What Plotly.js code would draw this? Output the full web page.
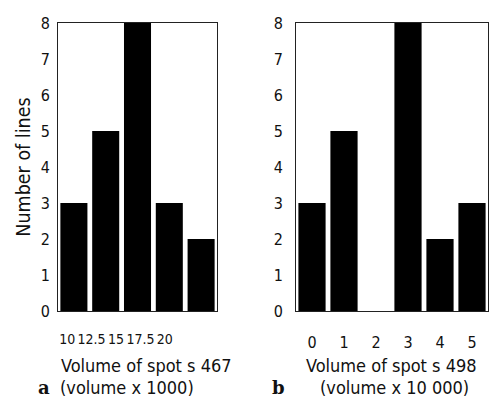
<!DOCTYPE html>
<html><head><meta charset="utf-8">
<script src="https://cdn.plot.ly/plotly-3.0.1.min.js"></script>
<style>html,body{margin:0;padding:0;background:#fff}</style>
</head><body><div id="chart" style="width:490px;height:406px"></div>
<script>
// Panel a: volume of spot s467 (volume x 1000)
const catsA = ['10', '12.5', '15', '17.5', '20'];
const countsA = [3, 5, 8, 3, 2];
// Panel b: volume of spot s498 (volume x 10 000)
const catsB = ['0', '1', '2', '3', '4', '5'];
const countsB = [3, 5, 0, 8, 2, 3];
const yTicks = [0, 1, 2, 3, 4, 5, 6, 7, 8];
const yTitle = 'Number of lines';
const titleA1 = 'Volume of spot s 467';
const titleA2 = '(volume x 1000)';
const titleB1 = 'Volume of spot s 498';
const titleB2 = '(volume x 10 000)';

const FONT = '"DejaVu Sans Condensed", "Liberation Sans Narrow", Roboto, sans-serif';
const SERIF = '"DejaVu Serif", "Liberation Serif", serif';
const W = 490;
const tickFont = {family: FONT, size: 16, color: '#111'};

const traces = [
  {type: 'bar', x: catsA, y: countsA, xaxis: 'x', yaxis: 'y',
   marker: {color: '#000', line: {width: 0}}, hoverinfo: 'skip', showlegend: false},
  {type: 'bar', x: catsB, y: countsB, xaxis: 'x2', yaxis: 'y2',
   marker: {color: '#000', line: {width: 0}}, hoverinfo: 'skip', showlegend: false},
  // carrier for the tick-label axis of panel a (draws nothing)
  {type: 'scatter', mode: 'none', x: catsA.map((c, i) => i), y: countsA,
   xaxis: 'x3', yaxis: 'y', hoverinfo: 'skip', showlegend: false}
];

const frame = {showline: true, mirror: true, linecolor: '#222', linewidth: 1,
  showgrid: false, zeroline: false, ticks: '', tickfont: tickFont, tickangle: 0};

const layout = {
  width: 490, height: 406,
  margin: {l: 0, r: 0, t: 23, b: 95, pad: 0},
  paper_bgcolor: '#fff', plot_bgcolor: 'rgba(0,0,0,0)',
  bargap: 0.15,
  font: {family: FONT, size: 15, color: '#111'},
  showlegend: false,
  xaxis: Object.assign({}, frame, {domain: [58 / W, 217 / W], type: 'category',
    range: [-0.5, catsA.length - 0.5], showticklabels: false, anchor: 'y'}),
  yaxis: Object.assign({}, frame, {domain: [0, 1], range: [0, 8], tickvals: yTicks,
    ticklabelstandoff: 4, anchor: 'x',
    title: {text: yTitle, font: {family: FONT, size: 19.5, color: '#111'}, standoff: 4}}),
  xaxis3: {domain: [55 / W, 177 / W], type: 'linear', anchor: 'y',
    range: [-0.5, catsA.length - 0.5], tickvals: catsA.map((c, i) => i), ticktext: catsA,
    tickfont: {family: FONT, size: 14, color: '#111'}, tickangle: 0,
    showline: false, showgrid: false, zeroline: false, ticks: '',
    ticklabelstandoff: 18},
  xaxis2: Object.assign({}, frame, {domain: [296 / W, 488 / W], type: 'category',
    range: [-0.5, catsB.length - 0.5], anchor: 'y2', ticklabelstandoff: 17}),
  yaxis2: Object.assign({}, frame, {domain: [0, 1], range: [0, 8], tickvals: yTicks,
    ticklabelstandoff: 9, anchor: 'x2'}),
  annotations: [
    {xref: 'paper', yref: 'paper', x: 59 / W, y: -0.19, xanchor: 'left', yanchor: 'middle',
     text: titleA1, showarrow: false, font: {family: FONT, size: 18, color: '#111'}},
    {xref: 'paper', yref: 'paper', x: 58 / W, y: -0.265, xanchor: 'left', yanchor: 'middle',
     text: titleA2, showarrow: false, font: {family: FONT, size: 18, color: '#111'}},
    {xref: 'paper', yref: 'paper', x: 36 / W, y: -0.265, xanchor: 'left', yanchor: 'middle',
     text: '<b>a</b>', showarrow: false, font: {family: SERIF, size: 18, color: '#111'}},
    {xref: 'paper', yref: 'paper', x: 391 / W, y: -0.19, xanchor: 'center', yanchor: 'middle',
     text: titleB1, showarrow: false, font: {family: FONT, size: 18, color: '#111'}},
    {xref: 'paper', yref: 'paper', x: 394 / W, y: -0.265, xanchor: 'center', yanchor: 'middle',
     text: titleB2, showarrow: false, font: {family: FONT, size: 18, color: '#111'}},
    {xref: 'paper', yref: 'paper', x: 270 / W, y: -0.265, xanchor: 'left', yanchor: 'middle',
     text: '<b>b</b>', showarrow: false, font: {family: SERIF, size: 18, color: '#111'}}
  ]
};

Plotly.newPlot('chart', traces, layout, {staticPlot: true, displayModeBar: false});
</script>
</body></html>
